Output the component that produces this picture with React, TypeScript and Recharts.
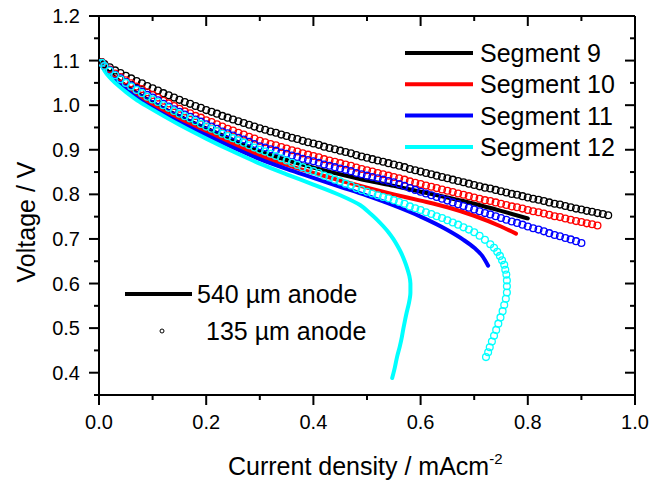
import React from "react";
import { ComposedChart, Line, Scatter, XAxis, YAxis } from "recharts";

const FONT = "'Liberation Sans', Arial, Helvetica, sans-serif";

const segmentNames = ["Segment 9", "Segment 10", "Segment 11", "Segment 12"];
const segmentColors = ["#000000", "#ff0000", "#0000ff", "#00ffff"];

const xTicks = [0, 0.1, 0.2, 0.3, 0.4, 0.5, 0.6, 0.7, 0.8, 0.9, 1.0];
const yTicks = [0.35, 0.4, 0.45, 0.5, 0.55, 0.6, 0.65, 0.7, 0.75, 0.8, 0.85, 0.9, 0.95, 1.0, 1.05, 1.1, 1.15, 1.2];

// 135 um anode (hollow circles): current density samples, mA/cm2
const thinCurrent = [
  0.005, 0.01, 0.02, 0.03, 0.04, 0.05, 0.06, 0.07, 0.08, 0.09,
  0.1, 0.11, 0.12, 0.13, 0.14, 0.15, 0.16, 0.17, 0.18, 0.19,
  0.2, 0.21, 0.22, 0.23, 0.24, 0.25, 0.26, 0.27, 0.28, 0.29,
  0.3, 0.31, 0.32, 0.33, 0.34, 0.35, 0.36, 0.37, 0.38, 0.39,
  0.4, 0.41, 0.42, 0.43, 0.44, 0.45, 0.46, 0.47, 0.48, 0.49,
  0.5, 0.51, 0.52, 0.53, 0.54, 0.55, 0.56, 0.57, 0.58, 0.59,
  0.6, 0.61, 0.62, 0.63, 0.64, 0.65, 0.66, 0.67, 0.68, 0.69,
  0.7, 0.71, 0.72, 0.73, 0.74, 0.75, 0.76, 0.77, 0.78, 0.79,
  0.8, 0.81, 0.82, 0.83, 0.84, 0.85, 0.86, 0.87, 0.88, 0.89,
  0.9, 0.91, 0.92, 0.93, 0.94, 0.95,
];

const seg9Thin = [
  1.097, 1.092, 1.085, 1.078, 1.072, 1.066, 1.06, 1.054, 1.049, 1.043,
  1.038, 1.033, 1.027, 1.022, 1.017, 1.012, 1.007, 1.003, 0.998, 0.994,
  0.989, 0.985, 0.981, 0.976, 0.972, 0.968, 0.964, 0.96, 0.956, 0.952,
  0.948, 0.945, 0.941, 0.938, 0.934, 0.931, 0.927, 0.924, 0.92, 0.917,
  0.914, 0.911, 0.907, 0.904, 0.901, 0.898, 0.895, 0.892, 0.888, 0.885,
  0.882, 0.879, 0.876, 0.873, 0.87, 0.867, 0.864, 0.861, 0.857, 0.854,
  0.851, 0.848, 0.845, 0.842, 0.839, 0.836, 0.833, 0.83, 0.827, 0.824,
  0.821, 0.818, 0.815, 0.813, 0.81, 0.807, 0.804, 0.801, 0.799, 0.796,
  0.793, 0.79, 0.788, 0.785, 0.782, 0.779, 0.777, 0.774, 0.771, 0.768,
  0.766, 0.763, 0.761, 0.758, 0.756, 0.753,
];

const seg10Thin = [
  1.096, 1.089, 1.08, 1.071, 1.063, 1.056, 1.049, 1.042, 1.036, 1.029,
  1.023, 1.017, 1.01, 1.004, 0.998, 0.992, 0.986, 0.982, 0.976, 0.972,
  0.966, 0.962, 0.957, 0.952, 0.947, 0.943, 0.938, 0.934, 0.929, 0.925,
  0.92, 0.917, 0.913, 0.91, 0.906, 0.903, 0.899, 0.896, 0.892, 0.889,
  0.886, 0.883, 0.879, 0.876, 0.873, 0.87, 0.867, 0.864, 0.86, 0.857,
  0.854, 0.851, 0.848, 0.845, 0.842, 0.839, 0.836, 0.833, 0.829, 0.826,
  0.823, 0.82, 0.817, 0.814, 0.811, 0.808, 0.805, 0.802, 0.799, 0.796,
  0.793, 0.79, 0.787, 0.785, 0.782, 0.779, 0.776, 0.773, 0.771, 0.768,
  0.765, 0.762, 0.76, 0.757, 0.754, 0.751, 0.749, 0.746, 0.743, 0.74,
  0.738, 0.735, 0.733, 0.73,
];

const seg11Thin = [
  1.095, 1.088, 1.078, 1.068, 1.06, 1.052, 1.044, 1.037, 1.03, 1.023,
  1.017, 1.011, 1.003, 0.997, 0.991, 0.985, 0.979, 0.974, 0.968, 0.963,
  0.957, 0.952, 0.947, 0.941, 0.937, 0.932, 0.927, 0.923, 0.918, 0.913,
  0.908, 0.905, 0.901, 0.898, 0.894, 0.891, 0.887, 0.884, 0.88, 0.877,
  0.874, 0.871, 0.867, 0.864, 0.861, 0.858, 0.855, 0.852, 0.848, 0.845,
  0.842, 0.839, 0.836, 0.833, 0.83, 0.827, 0.823, 0.819, 0.814, 0.81,
  0.806, 0.802, 0.798, 0.794, 0.79, 0.786, 0.782, 0.778, 0.774, 0.77,
  0.766, 0.762, 0.758, 0.755, 0.751, 0.747, 0.743, 0.739, 0.736, 0.732,
  0.728, 0.724, 0.721, 0.717, 0.713, 0.709, 0.706, 0.702, 0.699, 0.695,
  0.691,
];

const seg12Thin = [
  1.095, 1.088, 1.077, 1.067, 1.058, 1.05, 1.042, 1.034, 1.027, 1.019,
  1.013, 1.007, 1.0, 0.994, 0.987, 0.981, 0.975, 0.97, 0.964, 0.958,
  0.952, 0.947, 0.942, 0.936, 0.931, 0.926, 0.921, 0.916, 0.91, 0.905,
  0.9, 0.896, 0.891, 0.886, 0.881, 0.876, 0.871, 0.866, 0.861, 0.856,
  0.852, 0.848, 0.842, 0.838, 0.833, 0.829, 0.824, 0.82, 0.814, 0.81,
  0.806, 0.802, 0.798, 0.794, 0.791, 0.787, 0.783, 0.779, 0.773, 0.769,
  0.765, 0.76, 0.756, 0.751, 0.747, 0.742, 0.737, 0.732, 0.726, 0.721,
  0.715, 0.707, 0.698, 0.688,
];
// segment 12 (135 um) bends back once it collapses
const seg12TailCurrent = [
  0.737, 0.743, 0.748, 0.752, 0.756, 0.758, 0.76, 0.761, 0.761, 0.761,
  0.759, 0.756, 0.753, 0.749, 0.745, 0.741, 0.737, 0.733, 0.729, 0.726, 0.722,
];
const seg12TailVoltage = [
  0.68, 0.671, 0.662, 0.652, 0.642, 0.631, 0.62, 0.607, 0.594, 0.58,
  0.566, 0.552, 0.538, 0.524, 0.51, 0.496, 0.483, 0.47, 0.457, 0.446, 0.435,
];

// 540 um anode (solid lines)
const seg9ThickCurrent = [0.003, 0.01, 0.02, 0.03, 0.05, 0.075, 0.1, 0.15, 0.2, 0.25, 0.3, 0.35, 0.4, 0.45, 0.5, 0.55, 0.6, 0.65, 0.7, 0.75, 0.8];
const seg9ThickVoltage = [1.1, 1.085, 1.072, 1.062, 1.044, 1.024, 1.006, 0.975, 0.948, 0.922, 0.897, 0.877, 0.86, 0.845, 0.831, 0.819, 0.806, 0.793, 0.779, 0.763, 0.746];

const seg10ThickCurrent = [0.003, 0.01, 0.02, 0.03, 0.05, 0.075, 0.1, 0.15, 0.2, 0.25, 0.3, 0.35, 0.4, 0.45, 0.5, 0.55, 0.6, 0.65, 0.7, 0.75, 0.778];
const seg10ThickVoltage = [1.1, 1.083, 1.069, 1.058, 1.039, 1.018, 1.0, 0.968, 0.94, 0.912, 0.887, 0.866, 0.848, 0.831, 0.815, 0.8, 0.786, 0.771, 0.752, 0.728, 0.712];

const seg11ThickCurrent = [0.003, 0.01, 0.02, 0.03, 0.05, 0.075, 0.1, 0.15, 0.2, 0.25, 0.3, 0.35, 0.4, 0.45, 0.5, 0.55, 0.6, 0.65, 0.68, 0.7, 0.715, 0.726];
const seg11ThickVoltage = [1.1, 1.081, 1.066, 1.055, 1.035, 1.012, 0.993, 0.961, 0.933, 0.905, 0.879, 0.857, 0.837, 0.817, 0.797, 0.775, 0.75, 0.72, 0.698, 0.68, 0.662, 0.64];

const seg12ThickCurrent = [
  0.003, 0.01, 0.02, 0.03, 0.05, 0.075, 0.1, 0.15, 0.2, 0.25, 0.3, 0.35, 0.4, 0.45, 0.487, 0.505, 0.518, 0.53,
  0.54, 0.549, 0.557, 0.564, 0.57, 0.575, 0.579, 0.581, 0.581, 0.578, 0.574, 0.571, 0.568, 0.565, 0.561, 0.556, 0.552, 0.547,
];
const seg12ThickVoltage = [
  1.1, 1.078, 1.062, 1.05, 1.03, 1.008, 0.99, 0.956, 0.925, 0.896, 0.869, 0.845, 0.822, 0.798, 0.776, 0.758, 0.744, 0.729,
  0.715, 0.7, 0.684, 0.668, 0.651, 0.634, 0.617, 0.6, 0.58, 0.555, 0.535, 0.518, 0.5, 0.48, 0.458, 0.435, 0.412, 0.388,
];

const pairs = (xs: number[], ys: number[]) => ys.map((v, k) => ({ i: xs[k], v }));

const thinSeries = [
  pairs(thinCurrent, seg9Thin),
  pairs(thinCurrent, seg10Thin),
  pairs(thinCurrent, seg11Thin),
  pairs(thinCurrent.slice(0, seg12Thin.length).concat(seg12TailCurrent), seg12Thin.concat(seg12TailVoltage)),
];
const thickSeries = [
  pairs(seg9ThickCurrent, seg9ThickVoltage),
  pairs(seg10ThickCurrent, seg10ThickVoltage),
  pairs(seg11ThickCurrent, seg11ThickVoltage),
  pairs(seg12ThickCurrent, seg12ThickVoltage),
];

const isMajor = (v: number, step: number) => Math.abs(v / step - Math.round(v / step)) < 1e-6;

const LeftTick = (props: any) => {
  const { x, y, payload } = props;
  const major = isMajor(payload.value, 0.1);
  return (
    <g>
      <line x1={x - (major ? 10 : 5)} x2={x} y1={y} y2={y} stroke="#000" strokeWidth={2} />
      {major && (
        <text x={x - 19} y={y + 7} textAnchor="end" fontSize={20} fontFamily={FONT} fill="#000">
          {payload.value.toFixed(1)}
        </text>
      )}
    </g>
  );
};

const RightTick = (props: any) => {
  const { x, y, payload } = props;
  const major = isMajor(payload.value, 0.1);
  return <line x1={x - (major ? 10 : 5)} x2={x} y1={y} y2={y} stroke="#000" strokeWidth={2} />;
};

const BottomTick = (props: any) => {
  const { x, y, payload } = props;
  const major = isMajor(payload.value, 0.2);
  return (
    <g>
      <line x1={x} x2={x} y1={y} y2={y + (major ? 10 : 5)} stroke="#000" strokeWidth={2} />
      {major && (
        <text x={x} y={y + 34} textAnchor="middle" fontSize={20} fontFamily={FONT} fill="#000">
          {payload.value.toFixed(1)}
        </text>
      )}
    </g>
  );
};

const TopTick = (props: any) => {
  const { x, y, payload } = props;
  const major = isMajor(payload.value, 0.2);
  return <line x1={x} x2={x} y1={y} y2={y + (major ? 10 : 5)} stroke="#000" strokeWidth={2} />;
};

const axisLine = { stroke: "#000", strokeWidth: 2 };

export default function App() {
  return (
    <div style={{ position: "absolute", left: 0, top: 0, width: 651, height: 481, background: "#fff" }}>
      <ComposedChart width={651} height={481} margin={{ top: 15, right: 15, bottom: 56, left: 0 }}>
        <XAxis xAxisId="b" dataKey="i" type="number" domain={[0, 1]} ticks={xTicks} interval={0}
          height={30} axisLine={axisLine} tickLine={false} tickSize={0} tickMargin={0} tick={BottomTick} allowDataOverflow />
        <XAxis xAxisId="t" dataKey="i" orientation="top" type="number" domain={[0, 1]} ticks={xTicks} interval={0}
          height={1} axisLine={axisLine} tickLine={false} tickSize={0} tickMargin={0} tick={TopTick} allowDataOverflow />
        <YAxis yAxisId="l" dataKey="v" type="number" domain={[0.35, 1.2]} ticks={yTicks} interval={0}
          width={99} axisLine={axisLine} tickLine={false} tickSize={0} tickMargin={0} tick={LeftTick} allowDataOverflow />
        <YAxis yAxisId="r" dataKey="v" orientation="right" type="number" domain={[0.35, 1.2]} ticks={yTicks} interval={0}
          width={1} axisLine={axisLine} tickLine={false} tickSize={0} tickMargin={0} tick={RightTick} allowDataOverflow />
        {thinSeries.map((d, k) => (
          <Scatter key={"thin" + k} xAxisId="b" yAxisId="l" name={segmentNames[k] + " 135"} data={d} dataKey="v"
            isAnimationActive={false}
            shape={(p: any) => <circle cx={p.cx} cy={p.cy} r={3.4} fill="none" stroke={segmentColors[k]} strokeWidth={1.3} />} />
        ))}
        {thickSeries.map((d, k) => (
          <Line key={"thick" + k} xAxisId="t" yAxisId="r" name={segmentNames[k]} data={d} dataKey="v"
            type={k === 3 ? "monotoneY" : "monotone"} stroke={segmentColors[k]} strokeWidth={4}
            strokeLinecap="round" dot={false} activeDot={false} isAnimationActive={false} />
        ))}
      </ComposedChart>
      <svg width={651} height={481} style={{ position: "absolute", left: 0, top: 0, pointerEvents: "none" }}
        fontFamily={FONT} fill="#000">
        <text transform="translate(35,222) rotate(-90)" textAnchor="middle" fontSize={25}>Voltage / V</text>
        <text x={228} y={475} fontSize={25}>
          Current density / mAcm<tspan fontSize={15} dy={-11}>-2</tspan>
        </text>
        {segmentNames.map((s, k) => (
          <g key={s}>
            <line x1={405} x2={473} y1={53 + k * 31.3} y2={53 + k * 31.3} stroke={segmentColors[k]} strokeWidth={4} />
            <text x={480} y={53 + k * 31.3 + 9} fontSize={25}>{s}</text>
          </g>
        ))}
        <line x1={125} x2={192} y1={294} y2={294} stroke="#000" strokeWidth={4} />
        <text x={197} y={303} fontSize={25}>540 µm anode</text>
        <circle cx={162} cy={331} r={2} fill="none" stroke="#000" strokeWidth={1} />
        <text x={206} y={340} fontSize={25}>135 µm anode</text>
      </svg>
    </div>
  );
}
